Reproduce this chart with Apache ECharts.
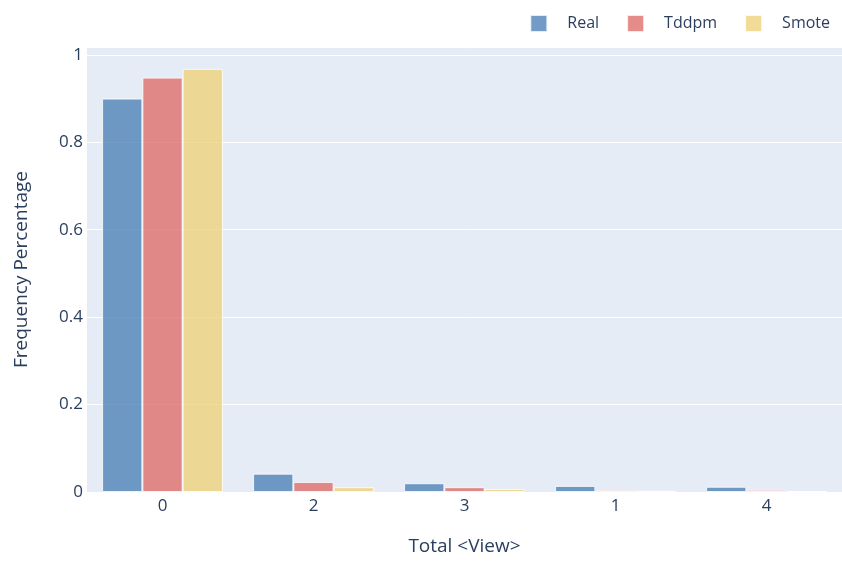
<!DOCTYPE html>
<html>
<head>
<meta charset="utf-8">
<script src="https://cdn.jsdelivr.net/npm/echarts@6/dist/echarts.min.js"></script>
<style>html,body{margin:0;padding:0;background:#fff}#c{width:842px;height:561px}</style>
</head>
<body>
<div id="c"></div>
<script>
const categories = ['0', '2', '3', '1', '4'];
const realValues = [0.900, 0.042, 0.020, 0.014, 0.012];
const tddpmValues = [0.948, 0.023, 0.011, 0.004, 0.005];
const smoteValues = [0.968, 0.011, 0.007, 0.003, 0.002];
const yTicks = [0, 0.2, 0.4, 0.6, 0.8, 1];

const chart = echarts.init(document.getElementById('c'));
const font = '"Open Sans", "Noto Sans", sans-serif';
const txt = '#2a3f5f';
function ser(name, data, color) {
  return {
    name, type: 'bar', data, barGap: '0%', barCategoryGap: '20%',
    itemStyle: { color, opacity: 0.8, borderColor: '#ffffff', borderWidth: 1 }
  };
}
chart.setOption({
  animation: false,
  backgroundColor: '#ffffff',
  textStyle: { fontFamily: font },
  legend: {
    right: 7, top: 9, itemWidth: 17, itemHeight: 17, itemGap: 27,
    icon: 'rect',
    textStyle: { color: txt, fontSize: 16, fontFamily: font, padding: [0, 0, 0, 15] },
    data: ['Real', 'Tddpm', 'Smote']
  },
  grid: { left: 87, right: 0, top: 47, bottom: 67, show: true, backgroundColor: '#e5ecf6', borderWidth: 0 },
  xAxis: {
    type: 'category', data: categories,
    name: 'Total <View>', nameLocation: 'middle', nameGap: 45,
    nameTextStyle: { color: txt, fontSize: 19, fontFamily: font },
    axisLine: { show: false }, axisTick: { show: false },
    axisLabel: { color: txt, fontSize: 17, fontFamily: font, margin: 6 },
    splitLine: { show: false }
  },
  yAxis: {
    type: 'value', min: 0, max: 1.018, interval: 0.2,
    name: 'Frequency Percentage', nameLocation: 'middle', nameGap: 56,
    nameTextStyle: { color: txt, fontSize: 19, fontFamily: font },
    axisLine: { show: false }, axisTick: { show: false },
    axisLabel: {
      color: txt, fontSize: 17, fontFamily: font, margin: 4,
      formatter: v => { const t = yTicks.find(x => Math.abs(x - v) < 1e-6); return t === undefined ? '' : String(t); }
    },
    splitLine: { lineStyle: { color: '#ffffff', width: 1 } }
  },
  series: [
    ser('Real', realValues, '#4f83b7'),
    ser('Tddpm', tddpmValues, '#df6f6c'),
    ser('Smote', smoteValues, '#eed27c')
  ]
});
</script>
</body>
</html>
